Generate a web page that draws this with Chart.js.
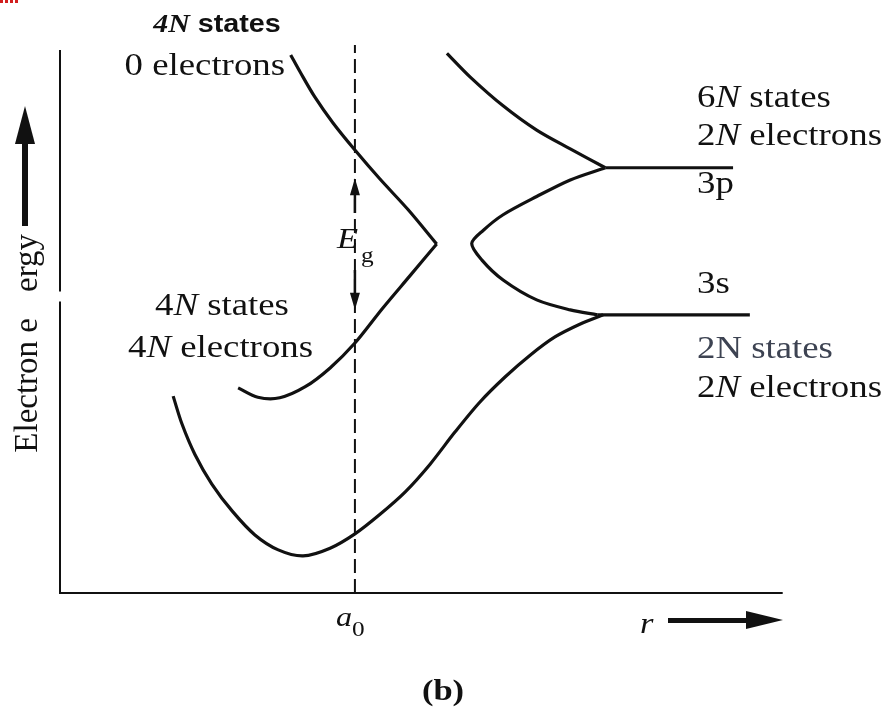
<!DOCTYPE html>
<html>
<head>
<meta charset="utf-8">
<title>Energy bands vs. interatomic distance</title>
<script src="https://cdn.jsdelivr.net/npm/chart.js@4.4.1/dist/chart.umd.min.js"></script>
<style>
  html, body { margin: 0; padding: 0; background: #fff; }
  #wrap { width: 888px; height: 708px; position: relative; }
</style>
</head>
<body>
<div id="wrap"><canvas id="bands"></canvas></div>
<script>
// r runs 0..10 along the axis, energy 0..10 up the axis (arbitrary units)

// lowest band, ends on the 3s level
const lowR = [1.55, 1.67, 1.85, 2.08, 2.36, 2.67, 2.99, 3.33, 3.70, 4.04, 4.38, 4.73, 5.07, 5.41, 5.75, 6.10, 6.44, 6.78, 7.12, 7.44];
const lowE = [3.56, 3.06, 2.50, 1.97, 1.48, 1.05, 0.78, 0.67, 0.81, 1.07, 1.42, 1.83, 2.33, 2.91, 3.45, 3.91, 4.30, 4.63, 4.86, 5.03];

// upper left band (4N states, 0 electrons) down to the crossing point
const condR = [3.16, 3.29, 3.49, 3.74, 4.04, 4.38, 4.77, 5.16];
const condE = [9.73, 9.42, 8.97, 8.50, 8.01, 7.49, 6.93, 6.31];

// lower left band (4N states, 4N electrons) from the crossing point
const valR = [5.16, 4.79, 4.42, 4.04, 3.70, 3.36, 3.01, 2.71, 2.44];
const valE = [6.31, 5.73, 5.15, 4.52, 4.07, 3.73, 3.53, 3.54, 3.71];

// top right band, ends on the 3p level
const pUpR = [5.30, 5.62, 6.07, 6.53, 6.99, 7.47];
const pUpE = [9.76, 9.33, 8.81, 8.37, 8.03, 7.69];

// middle right band, from the 3p level round to the 3s level
const midR = [7.47, 6.99, 6.53, 6.07, 5.80, 5.64, 5.78, 6.07, 6.53, 6.99, 7.36];
const midE = [7.69, 7.47, 7.17, 6.84, 6.56, 6.32, 6.02, 5.66, 5.30, 5.12, 5.03];

// isolated atom levels
const level3pR = [7.47, 9.22];
const level3pE = [7.69, 7.69];
const level3sR = [7.36, 9.45];
const level3sE = [5.03, 5.03];

// equilibrium spacing and the gap arrows on it
const a0 = 4.04;
const a0LineE = [0, 9.91];
const gapUpE = [6.87, 7.50];
const gapDownE = [5.84, 5.12];

// axis extents
const axisMaxR = 9.90;
const axisMaxE = 9.82;
const axisBreakE = [5.27, 5.45];

const pts = (xs, ys) => xs.map((x, i) => ({ x: x, y: ys[i] }));

const INK = '#111';
const SERIF = '"Liberation Serif", "Times New Roman", serif';
const SANS = '"Liberation Sans", Arial, sans-serif';
const SX = 1.15; // the lettering is a little wide

function curve(xs, ys, extra) {
  return Object.assign({
    data: pts(xs, ys),
    showLine: true,
    borderColor: INK,
    borderWidth: 3.2,
    pointRadius: 0,
    tension: 0.3,
    fill: false,
    clip: false
  }, extra || {});
}

// draw a run of text pieces (each with its own font) stretched horizontally
function runText(ctx, x, y, pieces, align) {
  let w = 0;
  pieces.forEach(p => { ctx.font = p.f; w += ctx.measureText(p.t).width * SX; });
  let cx = align === 'right' ? x - w : align === 'center' ? x - w / 2 : x;
  pieces.forEach(p => {
    ctx.font = p.f;
    const pw = ctx.measureText(p.t).width * SX;
    ctx.save();
    ctx.translate(cx, y);
    ctx.scale(SX, 1);
    ctx.fillStyle = p.c || INK;
    ctx.textBaseline = 'alphabetic';
    ctx.textAlign = 'left';
    ctx.fillText(p.t, 0, 0);
    ctx.restore();
    cx += pw;
  });
}

const reg = () => '32px ' + SERIF;
const ital = () => 'italic 32px ' + SERIF;

const decorations = {
  id: 'decorations',
  afterDatasetsDraw(chart) {
    const ctx = chart.ctx;
    const xs = chart.scales.x, ys = chart.scales.y;
    const X = v => xs.getPixelForValue(v);
    const Y = v => ys.getPixelForValue(v);
    ctx.save();

    // axes
    ctx.strokeStyle = INK;
    ctx.lineWidth = 2;
    ctx.beginPath();
    ctx.moveTo(X(0), Y(axisMaxE));
    ctx.lineTo(X(0), Y(axisBreakE[1]));
    ctx.moveTo(X(0), Y(axisBreakE[0]));
    ctx.lineTo(X(0), Y(0));
    ctx.lineTo(X(axisMaxR), Y(0));
    ctx.stroke();

    // E_g arrows on the a0 line
    ctx.fillStyle = INK;
    ctx.lineWidth = 2.5;
    const ax = X(a0);
    ctx.beginPath();
    ctx.moveTo(ax, Y(gapUpE[0]));
    ctx.lineTo(ax, Y(gapUpE[1]) + 14);
    ctx.moveTo(ax, Y(gapDownE[0]));
    ctx.lineTo(ax, Y(gapDownE[1]) - 14);
    ctx.stroke();
    ctx.beginPath();
    ctx.moveTo(ax, Y(gapUpE[1]));
    ctx.lineTo(ax - 5, Y(gapUpE[1]) + 17);
    ctx.lineTo(ax + 5, Y(gapUpE[1]) + 17);
    ctx.closePath();
    ctx.moveTo(ax, Y(gapDownE[1]));
    ctx.lineTo(ax - 5, Y(gapDownE[1]) - 17);
    ctx.lineTo(ax + 5, Y(gapDownE[1]) - 17);
    ctx.closePath();
    ctx.fill();

    // energy arrow beside the y axis
    ctx.fillRect(22, 140, 6, 86);
    ctx.beginPath();
    ctx.moveTo(25, 106);
    ctx.lineTo(15, 144);
    ctx.lineTo(35, 144);
    ctx.closePath();
    ctx.fill();

    // r arrow under the x axis
    ctx.fillRect(668, 618, 82, 5);
    ctx.beginPath();
    ctx.moveTo(783, 620);
    ctx.lineTo(746, 611);
    ctx.lineTo(746, 629);
    ctx.closePath();
    ctx.fill();

    // band labels
    runText(ctx, 217, 32, [
      { t: '4N', f: 'bold italic 26px ' + SERIF },
      { t: ' states', f: 'bold 25px ' + SANS }
    ], 'center');
    runText(ctx, 285, 75, [{ t: '0 electrons', f: reg() }], 'right');

    runText(ctx, 155, 315, [{ t: '4', f: reg() }, { t: 'N', f: ital() }, { t: ' states', f: reg() }], 'left');
    runText(ctx, 313, 357, [{ t: '4', f: reg() }, { t: 'N', f: ital() }, { t: ' electrons', f: reg() }], 'right');

    runText(ctx, 697, 107, [{ t: '6', f: reg() }, { t: 'N', f: ital() }, { t: ' states', f: reg() }], 'left');
    runText(ctx, 697, 145, [{ t: '2', f: reg() }, { t: 'N', f: ital() }, { t: ' electrons', f: reg() }], 'left');
    runText(ctx, 697, 193, [{ t: '3p', f: reg() }], 'left');
    runText(ctx, 697, 293, [{ t: '3s', f: reg() }], 'left');
    runText(ctx, 697, 358, [{ t: '2N states', f: reg(), c: '#3d4352' }], 'left');
    runText(ctx, 697, 397, [{ t: '2', f: reg() }, { t: 'N', f: ital() }, { t: ' electrons', f: reg() }], 'left');

    // gap label
    runText(ctx, 337, 248, [{ t: 'E', f: 'italic 30px ' + SERIF }], 'left');
    runText(ctx, 361, 262, [{ t: 'g', f: '22px ' + SERIF }], 'left');

    // axis labels
    runText(ctx, 336, 626, [{ t: 'a', f: 'italic 28px ' + SERIF }], 'left');
    runText(ctx, 352, 636, [{ t: '0', f: '22px ' + SERIF }], 'left');
    runText(ctx, 640, 633, [{ t: 'r', f: 'italic 30px ' + SERIF }], 'left');
    runText(ctx, 443, 700, [{ t: '(b)', f: 'bold 30px ' + SERIF }], 'center');

    // vertical axis title
    ctx.save();
    ctx.translate(37, 0);
    ctx.rotate(-Math.PI / 2);
    ctx.fillStyle = INK;
    ctx.font = '33px ' + SERIF;
    ctx.textAlign = 'right';
    ctx.fillText('Electron e', -318, 0);
    ctx.textAlign = 'left';
    ctx.fillText('ergy', -292, 0);
    ctx.restore();

    // red specks along the top left corner
    ctx.strokeStyle = '#d21f1f';
    ctx.lineWidth = 3;
    ctx.setLineDash([3, 2]);
    ctx.beginPath();
    ctx.moveTo(0, 1.5);
    ctx.lineTo(20, 1.5);
    ctx.stroke();

    ctx.restore();
  }
};

new Chart('bands', {
  type: 'scatter',
  data: {
    datasets: [
      curve(lowR, lowE),
      curve(condR, condE),
      curve(valR, valE),
      curve(pUpR, pUpE),
      curve(midR, midE),
      curve(level3pR, level3pE, { tension: 0 }),
      curve(level3sR, level3sE, { tension: 0 }),
      curve([a0, a0], a0LineE, { tension: 0, borderWidth: 2, borderDash: [14, 6] })
    ]
  },
  options: {
    responsive: true,
    maintainAspectRatio: false,
    animation: false,
    layout: { padding: { left: 60, right: 98, top: 40, bottom: 115 } },
    plugins: { legend: { display: false }, tooltip: { enabled: false } },
    scales: {
      x: { type: 'linear', min: 0, max: 10, display: false },
      y: { type: 'linear', min: 0, max: 10, display: false }
    }
  },
  plugins: [decorations]
});
</script>
</body>
</html>
